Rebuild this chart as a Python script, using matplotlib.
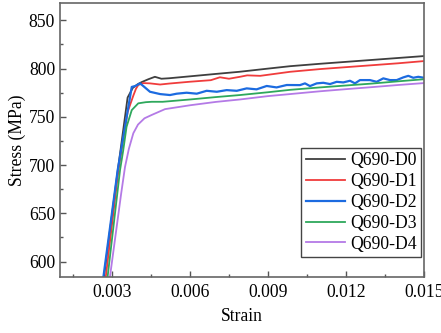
import matplotlib
matplotlib.use("Agg")
import matplotlib.pyplot as plt
from matplotlib.ticker import MultipleLocator

# strain / stress (MPa)
d0_strain = [0.00255, 0.00269, 0.0032, 0.0036, 0.0038, 0.0040, 0.00414, 0.0044, 0.00465, 0.0049,
             0.0052, 0.006, 0.007, 0.0079, 0.009, 0.00985, 0.011, 0.012, 0.013, 0.014, 0.015]
d0_stress = [555, 584, 690, 770, 780, 784, 786, 789, 791.5, 789.5,
             790, 792, 794.5, 796.7, 800, 802.5, 805, 807, 809, 811, 813]

d1_strain = [0.0026, 0.00276, 0.00325, 0.0036, 0.00382, 0.00392, 0.00401, 0.0042, 0.00446, 0.00485,
             0.0052, 0.006, 0.0068, 0.00715, 0.0075, 0.00792, 0.0082, 0.0087, 0.00985,
             0.011, 0.012, 0.013, 0.014, 0.015]
d1_stress = [555, 584, 695, 755, 772, 779, 783, 785, 784.7, 783.5,
             784.5, 786.4, 788, 791, 789.5, 791.5, 793, 792.5, 796.7,
             799.5, 801.5, 803.5, 805.5, 807.8]

d2_strain = [0.0025, 0.00267, 0.00322, 0.00363, 0.00376, 0.0039, 0.00408, 0.0042, 0.00446, 0.00485,
             0.00523, 0.00549, 0.00587, 0.00626, 0.00664, 0.00703, 0.00741, 0.0078, 0.00818,
             0.00856, 0.00895, 0.00933, 0.00972, 0.010231, 0.010423, 0.010615, 0.010873,
             0.011127, 0.011385, 0.011642, 0.011896, 0.012154, 0.012346, 0.012538, 0.012923,
             0.01318, 0.013435, 0.013692, 0.01395, 0.014204, 0.014396, 0.014588, 0.01478, 0.015]
d2_stress = [550, 584.2, 695, 760.5, 781, 782, 784.7, 782, 776, 773.6,
             772.6, 774, 775, 774, 777, 776, 777.7, 777, 779.5,
             778.5, 782, 780.5, 783, 782.9, 784.7, 781.9, 784.7,
             785.3, 784, 786.3, 785.7, 787.4, 784.7, 788.1, 788.1,
             786.3, 789.9, 788.1, 788.1, 790.9, 792.5, 790.5, 791.5, 790.5]

d3_strain = [0.0027, 0.00283, 0.00331, 0.00343, 0.00356, 0.00376, 0.00401, 0.0043, 0.00453, 0.00495,
             0.006, 0.007, 0.00792, 0.009, 0.00985, 0.011, 0.012, 0.013, 0.014, 0.015]
d3_stress = [555, 584, 695, 715, 739.7, 757, 764, 765.2, 765.6, 765.6,
             768, 770.5, 772.6, 775.5, 778, 780.5, 782.5, 784.5, 786.8, 789]

d4_strain = [0.0028, 0.00292, 0.00335, 0.0035, 0.00365, 0.00382, 0.004, 0.00425, 0.00453, 0.00504,
             0.006, 0.007, 0.00792, 0.009, 0.00985, 0.011, 0.012, 0.013, 0.014, 0.015]
d4_stress = [560, 584, 670, 698, 717, 733, 742, 748.5, 752, 758,
             762, 765.5, 768, 771.5, 773.6, 776.5, 778.7, 780.8, 783, 785]

labels = ["Q690-D0", "Q690-D1", "Q690-D2", "Q690-D3", "Q690-D4"]
colors = ["#3f3f3f", "#f03c3c", "#1c6be0", "#2ea85c", "#b47ae6"]

plt.rcParams["font.family"] = ["Liberation Serif", "DejaVu Serif"]
plt.rcParams["font.size"] = 12.7

fig = plt.figure(figsize=(4.41, 3.33), dpi=100)
ax = fig.add_axes([60 / 441, 56 / 333, 364 / 441, 274 / 333])

series = [(d0_strain, d0_stress), (d1_strain, d1_stress), (d2_strain, d2_stress),
          (d3_strain, d3_stress), (d4_strain, d4_stress)]
for (x, y), lab, c in zip(series, labels, colors):
    lw = 1.6 if lab == "Q690-D2" else 1.3
    ax.plot(x, y, color=c, lw=lw, label=lab)

ax.set_xlim(0.001, 0.015)
ax.set_ylim(584, 868)
ax.xaxis.set_minor_locator(MultipleLocator(0.0015))
ax.yaxis.set_major_locator(MultipleLocator(50))
ax.yaxis.set_minor_locator(MultipleLocator(25))
ax.set_xticks([0.003, 0.006, 0.009, 0.012, 0.015])
ax.set_xticklabels(["0.003", "0.006", "0.009", "0.012", "0.015"])
ax.tick_params(which="both", direction="in", top=False, right=False, color="#555555")
ax.tick_params(which="major", length=4, width=1)
ax.tick_params(which="minor", length=2.5, width=1)
ax.tick_params(axis="x", pad=5)
for s in ["left", "bottom", "right", "top"]:
    ax.spines[s].set_color("#666666")
    ax.spines[s].set_linewidth(1.2)

ax.set_xlabel("Strain", labelpad=5)
ax.set_ylabel("Stress (MPa)", labelpad=2)

leg = ax.legend(loc="lower right", bbox_to_anchor=(421 / 441, (333 - 257) / 333),
                bbox_transform=fig.transFigure, frameon=True, fancybox=False,
                handlelength=2.2, handletextpad=0.3, labelspacing=0.22,
                borderpad=0.25, borderaxespad=0, framealpha=1)
leg.get_frame().set_edgecolor("#444444")
leg.get_frame().set_linewidth(1.0)

fig.savefig("out.png", dpi=100)
